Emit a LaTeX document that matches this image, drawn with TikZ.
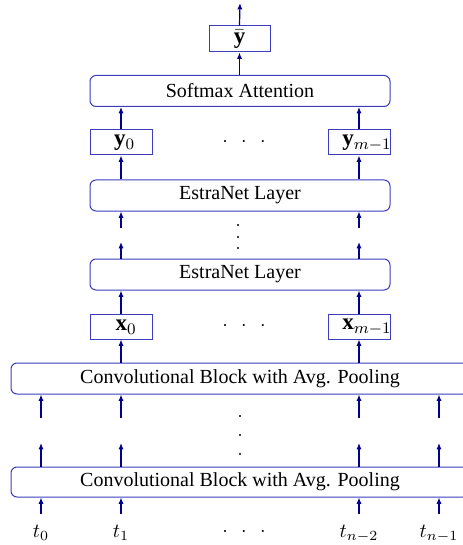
\documentclass[tikz,border=0pt]{standalone}
\usepackage{fontspec}
\setmainfont{Liberation Serif}
\usetikzlibrary{arrows.meta}
\definecolor{nb}{RGB}{0,0,140}
\definecolor{bx}{RGB}{60,60,190}
\tikzset{
  blk/.style={draw=bx, line width=0.5pt, rounded corners=3pt, inner sep=0pt, minimum width=150pt, minimum height=15.5pt},
  vecbox/.style={draw=bx, line width=0.5pt, inner sep=0pt, minimum width=31pt, minimum height=12.5pt},
  lbl/.style={inner sep=0pt, font=\fontsize{11.5}{13}\selectfont},
  arr/.style={draw=nb, line width=0.6pt, -{Latex[length=3.2pt,width=2.6pt]}},
  hdots/.style={inner sep=0pt},
  dotc/.style={fill=black},
}
\begin{document}
\begin{tikzpicture}[x=0.5pt,y=-0.5pt]
\useasboundingbox (0,0) rectangle (462,545);
% output
\node[vecbox, minimum width=30.5pt, minimum height=13pt, font=\fontsize{11.5}{13}\selectfont] (yb) at (239.5,39) {$\bar{\mathbf{y}}$};
\coordinate (out) at (240,3);
\node[blk] (sm) at (240,91) {Softmax Attention};
% y row
\node[vecbox] (y0) at (121,142.5) {};
\node[lbl] (y0t) at (124.5,143) {$\mathbf{y}_0$};
\node[vecbox] (ym) at (359.5,142.5) {};
\node[lbl] (ymt) at (367,143) {$\mathbf{y}_{m-1}$};
\node[hdots] (hd1) at (244,142) {$\cdot$\hspace{6.7pt}$\cdot$\hspace{6.7pt}$\cdot$};
% estranet
\node[blk] (e1) at (240,195.5) {EstraNet Layer};
\node[blk] (e2) at (240,274.5) {EstraNet Layer};
\foreach \yy in {225,237,248}{\fill (238,\yy) circle (0.6pt);}
% x row
\node[vecbox] (x0) at (121,326.5) {};
\node[lbl] (x0t) at (126,327) {$\mathbf{x}_0$};
\node[vecbox] (xm) at (359.5,326.5) {};
\node[lbl] (xmt) at (367,327) {$\mathbf{x}_{m-1}$};
\node[hdots] (hd2) at (244,326) {$\cdot$\hspace{6.7pt}$\cdot$\hspace{6.7pt}$\cdot$};
% conv
\node[blk, minimum width=229pt] (c1) at (240,378.5) {Convolutional Block with Avg. Pooling};
\node[blk, minimum width=229pt, minimum height=15pt] (c2) at (240,482) {Convolutional Block with Avg. Pooling};
\foreach \yy in {416,435,454}{\fill (240,\yy) circle (0.6pt);}
% inputs
\node[inner sep=0pt, anchor=base] (t0) at (41,537) {$t_0$};
\node[inner sep=0pt, anchor=base] (t1) at (121,537) {$t_1$};
\node[inner sep=0pt, anchor=base] (t2) at (359,537) {$t_{n-2}$};
\node[inner sep=0pt, anchor=base] (t3) at (439,537) {$t_{n-1}$};
\node[hdots] (hd3) at (244,532) {$\cdot$\hspace{6.7pt}$\cdot$\hspace{6.7pt}$\cdot$};
% free-end coordinates
\coordinate (ea) at (121,228); \coordinate (eb) at (359,228);
\coordinate (fa) at (121,242); \coordinate (fb) at (359,242);
\coordinate (ga) at (41,418); \coordinate (gb) at (121,418); \coordinate (gc) at (359,418); \coordinate (gd) at (439,418);
\coordinate (ha) at (41,443); \coordinate (hb) at (121,443); \coordinate (hc) at (359,443); \coordinate (hd) at (439,443);
\coordinate (ia) at (41,514); \coordinate (ib) at (121,514); \coordinate (ic) at (359,514); \coordinate (id) at (439,514);
% arrows
\draw[arr] (yb.north) -- (out);
\draw[arr] (sm.north -| yb) -- (yb.south);
\draw[arr] (y0.north -| ea) -- (ea |- sm.south);
\draw[arr] (ym.north -| eb) -- (eb |- sm.south);
\draw[arr] (e1.north -| ea) -- (ea |- y0.south);
\draw[arr] (e1.north -| eb) -- (eb |- ym.south);
\draw[arr] (ea) -- (ea |- e1.south);
\draw[arr] (eb) -- (eb |- e1.south);
\draw[arr] (e2.north -| fa) -- (fa);
\draw[arr] (e2.north -| fb) -- (fb);
\draw[arr] (x0.north -| ea) -- (ea |- e2.south);
\draw[arr] (xm.north -| eb) -- (eb |- e2.south);
\draw[arr] (c1.north -| ea) -- (ea |- x0.south);
\draw[arr] (c1.north -| eb) -- (eb |- xm.south);
\foreach \p in {ga,gb,gc,gd}{\draw[arr] (\p) -- (\p |- c1.south);}
\foreach \p in {ha,hb,hc,hd}{\draw[arr] (c2.north -| \p) -- (\p);}
\foreach \p/\t in {ia/t0,ib/t1,ic/t2,id/t3}{\draw[arr] (\p) -- (\p |- c2.south);}
\end{tikzpicture}
\end{document}
